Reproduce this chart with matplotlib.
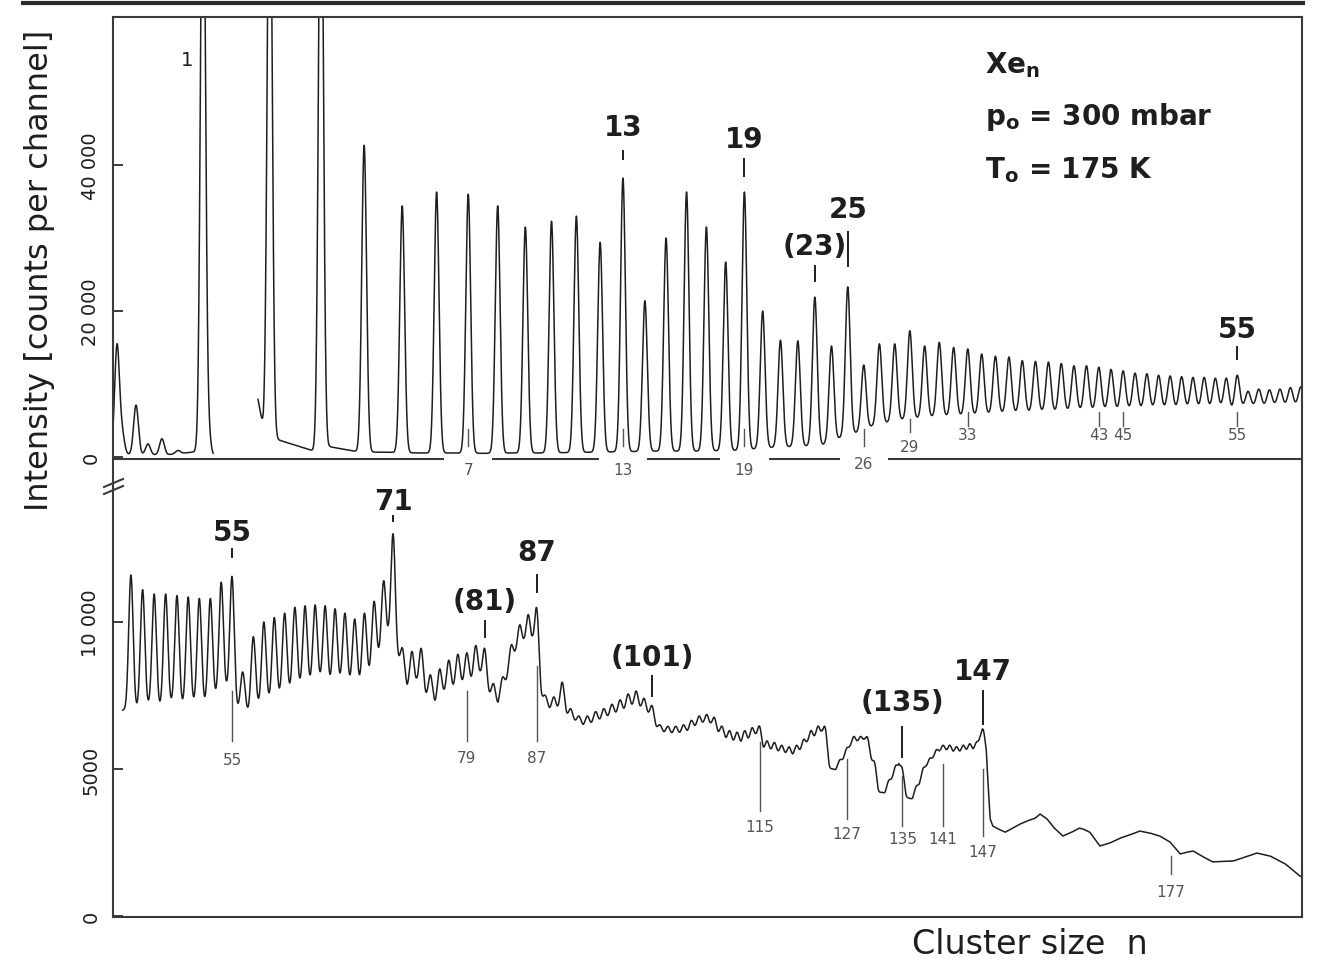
import numpy as np
import matplotlib
matplotlib.use("Agg")
import matplotlib.pyplot as plt
from matplotlib.lines import Line2D

# ---------------- data (counts per channel) ----------------

# upper trace: peak heights for cluster sizes n = 1 .. 61 (1-3 run off scale)
top_n = list(range(1, 62))
top_peak = [90000, 90000, 90000, 42700, 34400, 36300, 36000, 34400, 31500, 32300,
            33000, 29400, 38200, 21400, 30000, 36300, 31500, 26700, 36300, 20000,
            16000, 15900, 21900, 15200, 23300, 12600, 15500, 15500, 17300, 15200,
            15700, 15000, 14800, 14100, 13800, 13700, 13200, 13100, 13000, 12800,
            12500, 12500, 12300, 12000, 11800, 11500, 11400, 11200, 11100, 11000,
            10900, 10900, 10800, 10800, 11200, 9000, 9300, 9200, 9300, 9500, 9600]
# valleys between n and n+1, n = 4 .. 60
top_valley_n = list(range(4, 61))
top_valley = [650, 550, 550, 500, 550, 550, 600, 650, 700, 750,
              800, 800, 800, 850, 900, 1100, 1300, 1400, 1500, 1700,
              2600, 3300, 4200, 4700, 5100, 5300, 5500, 5600, 5700, 5800,
              5900, 6000, 6100, 6100, 6200, 6200, 6300, 6400, 6400, 6500,
              6500, 6600, 6600, 6700, 6700, 6700, 6800, 6800, 6800, 6900,
              6500, 6900, 7000, 7000, 7100, 7100, 7100]
# background lines below n = 1 and the shoulder of Xe+
top_extra_n = [0.218, 0.248, 0.342, 0.434, 0.556, 0.714, 1.063]
top_extra = [15200, 3200, 7100, 1800, 2500, 900, 3800]
# baseline of the first part (pen lifted between n = 1 and n = 2)
top_base_n = [0.195, 0.40, 0.60, 0.75, 0.90, 1.00, 1.13,
              1.80, 1.89, 2.09, 2.57, 2.83, 3.20, 3.85]
top_base = [400, 300, 300, 500, 700, 900, 200,
            7900, 3800, 2500, 1400, 850, 1400, 700]

# lower trace: peak heights for n = 46 .. 147
bot_n = list(range(46, 148))
bot_peak = [11600, 11100, 10950, 10950, 10900, 10850, 10800, 10800, 11350, 11550,
            8300, 9500, 10000, 10150, 10300, 10500, 10550, 10580, 10550, 10450,
            10300, 10100, 10300, 10700, 11400, 13000, 9100, 9000, 9100, 8200,
            8400, 8700, 8900, 8950, 9200, 9100, 7900, 8100, 9200, 9900,
            10250, 10450, 7500, 7450, 7950, 7050, 6800, 6800, 6950, 7050,
            7200, 7350, 7550, 7650, 7400, 7150, 6500, 6450, 6450, 6500,
            6650, 6800, 6850, 6750, 6450, 6300, 6250, 6300, 6400, 6450,
            5950, 5900, 5800, 5750, 5800, 6000, 6300, 6450, 6400, 5000,
            5300, 5700, 6100, 6100, 6050, 5200, 4200, 4600, 5100, 5000,
            4000, 4400, 5000, 5350, 5650, 5800, 5800, 5750, 5800, 5850,
            5900, 6350]
# valleys between n and n+1, n = 45 .. 147
bot_valley_n = list(range(45, 148))
bot_valley = [7000, 7000, 7100, 7050, 7150, 7100, 7150, 7150, 7400, 7600,
              7000, 6900, 7100, 7250, 7400, 7550, 7700, 7800, 7900, 7800,
              7850, 7800, 7800, 8100, 8700, 9300, 8600, 7650, 7800, 7350,
              7100, 7450, 7600, 7750, 7850, 8000, 7400, 7100, 7900, 8800,
              9150, 9050, 7300, 6950, 6900, 6700, 6550, 6400, 6450, 6550,
              6650, 6750, 6850, 6950, 6900, 6700, 6300, 6150, 6100, 6100,
              6150, 6300, 6400, 6350, 6050, 5850, 5750, 5700, 5800, 5900,
              5450, 5450, 5400, 5350, 5300, 5450, 5700, 5850, 5900, 4900,
              4900, 5200, 5600, 5750, 5750, 5000, 4100, 4100, 4500, 4900,
              3950, 3900, 4300, 4900, 5200, 5400, 5400, 5350, 5350, 5400,
              5450, 5700, 5400]
# unresolved tail beyond n = 147
bot_tail_n = [148.1, 148.5, 149.4, 150.4, 151.5, 152.7, 154.0, 155.0, 155.8, 156.4,
              156.9, 158.0, 159.4, 160.8, 162.0, 162.6, 163.7, 165.3, 166.9, 168.6,
              170.2, 171.8, 173.5, 175.1, 176.8, 178.5, 179.6, 180.7, 182.3, 184.0,
              185.8, 187.5, 189.6, 191.6, 193.9, 196.5, 199.1, 199.6]
bot_tail = [3300, 3060, 2950, 2850, 2980, 3130, 3250, 3320, 3470, 3380,
            3300, 3000, 2720, 2850, 2990, 2960, 2850, 2380, 2480, 2650,
            2760, 2890, 2820, 2720, 2520, 2110, 2170, 2210, 2020, 1840,
            1860, 1870, 2010, 2140, 2040, 1780, 1360, 1330]

# annotations
top_magic = ["13", "19", "(23)", "25", "55"]
top_magic_n = [13, 19, 23, 25, 55]
top_small = ["29", "33", "43", "45", "55"]
top_small_n = [29, 33, 43, 45, 55]
top_axis_marks = ["7", "13", "19", "26"]
top_axis_marks_n = [7, 13, 19, 26]
bot_magic = ["55", "71", "(81)", "87", "(101)", "(135)", "147"]
bot_magic_n = [55, 71, 81, 87, 101, 135, 147]
bot_small = ["55", "79", "87", "115", "127", "135", "141", "147", "177"]
bot_small_n = [55, 79, 87, 115, 127, 135, 141, 147, 177]

# ---------------- layout ----------------
W_PX, H_PX = 1317, 962
INK = "#1e1e1e"
SOFT = "#555555"

# label placement (text y, tick from, tick to) in counts
top_magic_y = [(45200, 40800, 41900), (43600, 38500, 40800), (28900, 24100, 26200),
               (34000, 26200, 30800), (17500, 13400, 15100)]
top_small_y = [(1400, 3400, 5200), (3150, 4300, 6200), (3150, 4300, 6200),
               (3150, 4300, 6200), (3150, 4300, 6200)]
bot_magic_y = [(13060, 12210, 12480), (14110, 13430, 13600), (10710, 9490, 10030),
               (12380, 11020, 11600), (8810, 7480, 8160), (7280, 5410, 6430),
               (8330, 6530, 7650)]
bot_small_y = [(5340, 5950, 7650), (5400, 5950, 7650), (5400, 5950, 8500),
               (3060, 3570, 5920), (2790, 3300, 5340), (2620, 3060, 4760),
               (2620, 3060, 5170), (2210, 2720, 5000), (850, 1430, 2040)]


def valley_pos(ns):
    ns = np.asarray(ns, dtype=float)
    return ((np.sqrt(ns) + np.sqrt(ns + 1)) / 2) ** 2


def spectrum(s, pk_n, pk_v, base_n, base_v, width):
    sb = np.sqrt(np.asarray(base_n, dtype=float))
    y = np.interp(s, sb, base_v)
    for n, v in zip(pk_n, pk_v):
        sp = np.sqrt(n)
        a = v - np.interp(sp, sb, base_v)
        y = y + a * np.exp(-0.5 * ((s - sp) / width) ** 2)
    return y


fig = plt.figure(figsize=(W_PX / 100, H_PX / 100), dpi=100)
left = 113 / W_PX
width = (1302 - 113) / W_PX
ax2 = fig.add_axes([left, 1 - 918 / H_PX, width, 458 / H_PX])
ax1 = fig.add_axes([left, 1 - 460 / H_PX, width, 442 / H_PX])
ax1.set_zorder(3)
ax2.set_facecolor("none")

for ax in (ax1, ax2):
    ax.set_xscale("function", functions=(np.sqrt, np.square))
    ax.set_xticks([])
    ax.minorticks_off()
    for sp in ax.spines.values():
        sp.set_linewidth(1.5)
        sp.set_color("#3a3a3a")
    ax.tick_params(axis="y", direction="in", length=7, width=1.4, pad=9,
                   labelsize=14, colors="#3a3a3a", labelcolor=INK)

# upper panel
ax1.set_xlim(0.1954, 61.12)
ax1.set_ylim(-274, 60274)
ax1.spines["bottom"].set_visible(False)

t_base_n = top_base_n + list(valley_pos(top_valley_n))
t_base_v = top_base + top_valley
t_pk_n = top_extra_n + top_n
t_pk_v = top_extra + top_peak
for lo, hi in [(0.1954, 1.13), (1.80, 61.12)]:
    s = np.linspace(np.sqrt(lo), np.sqrt(hi), 9000)
    y = spectrum(s, t_pk_n, t_pk_v, t_base_n, t_base_v, 0.0148)
    ax1.plot(s ** 2, y, color=INK, lw=1.1)

# broken zero line with the size marks sitting in it
hw = 0.15
edges = [np.sqrt(0.1954)]
for n in top_axis_marks_n:
    edges += [np.sqrt(n) - hw, np.sqrt(n) + hw]
edges.append(np.sqrt(61.12))
for a, b in zip(edges[0::2], edges[1::2]):
    ax1.plot([a ** 2, b ** 2], [0, 0], transform=ax1.get_xaxis_transform(),
             color="#3a3a3a", lw=1.5, clip_on=False, solid_capstyle="butt")
for t, n in zip(top_axis_marks, top_axis_marks_n):
    yl = -850 if n == 26 else -1650
    ax1.text(n, yl, t, ha="center", va="center", fontsize=11, color=SOFT,
             clip_on=False)
    ax1.plot([n, n], [1500, 3800], color=SOFT, lw=1.0)

ax1.set_yticks([0, 20000, 40000])
ax1.set_yticklabels(["0", "20 000", "40 000"], rotation=90, va="center")

ax1.text(0.81, 54500, "1", ha="center", va="center", fontsize=14, color=INK)
for t, n, (yt, y0, y1) in zip(top_magic, top_magic_n, top_magic_y):
    ax1.text(n, yt, t, ha="center", va="center", fontsize=20,
             fontweight="bold", color=INK)
    ax1.plot([n, n], [y0, y1], color=INK, lw=1.4)
for t, n, (yt, y0, y1) in zip(top_small, top_small_n, top_small_y):
    ax1.text(n, yt, t, ha="center", va="center", fontsize=11, color=SOFT)
    ax1.plot([n, n], [y0, y1], color=SOFT, lw=1.0)

for yy, txt in [(0.894, r"Xe$_\mathbf{n}$"),
                (0.776, r"p$_\mathbf{o}$ = 300 mbar"),
                (0.656, r"T$_\mathbf{o}$ = 175 K")]:
    ax1.text(0.7334, yy, txt, transform=ax1.transAxes, color=INK,
             va="center", ha="left", fontsize=20, fontweight="bold")

# lower panel
ax2.set_xlim(44.49, 199.5)
ax2.set_ylim(-34, 15544)
ax2.spines["top"].set_visible(False)

b_base_n = list(valley_pos(bot_valley_n)) + bot_tail_n
b_base_v = bot_valley + bot_tail
s = np.linspace(np.sqrt(45.3), np.sqrt(199.6), 12000)
y = spectrum(s, bot_n, bot_peak, b_base_n, b_base_v, 0.0138)
ax2.plot(s ** 2, y, color=INK, lw=1.1)

ax2.set_yticks([0, 5000, 10000])
ax2.set_yticklabels(["0", "5000", "10 000"], rotation=90, va="center")

for t, n, (yt, y0, y1) in zip(bot_magic, bot_magic_n, bot_magic_y):
    ax2.text(n, yt, t, ha="center", va="center", fontsize=20,
             fontweight="bold", color=INK)
    ax2.plot([n, n], [y0, y1], color=INK, lw=1.4)
for t, n, (yt, y0, y1) in zip(bot_small, bot_small_n, bot_small_y):
    ax2.text(n, yt, t, ha="center", va="center", fontsize=11, color=SOFT)
    ax2.plot([n, n], [y0, y1], color=SOFT, lw=1.0)


def px(x, y):
    return x / W_PX, 1 - y / H_PX


# axis break on the left spine
for y0 in (480, 487):
    (xa, ya), (xb, yb) = px(104, y0 + 8), px(123, y0)
    fig.add_artist(Line2D([xa, xb], [ya, yb], color="#3a3a3a", lw=1.5))

# heavy rule at the top of the page
(xa, ya), (xb, yb) = px(23, 4), px(1303, 4)
fig.add_artist(Line2D([xa, xb], [ya, yb], color="#2a2a2a", lw=3))

fx, fy = px(40, 270)
fig.text(fx, fy, "Intensity [counts per channel]", rotation=90, ha="center",
         va="center", fontsize=23, color=INK)
fx, fy = px(1030, 945)
fig.text(fx, fy, "Cluster size  n", ha="center", va="center", fontsize=24,
         color=INK)

fig.savefig("out.png", dpi=100, facecolor="white")
